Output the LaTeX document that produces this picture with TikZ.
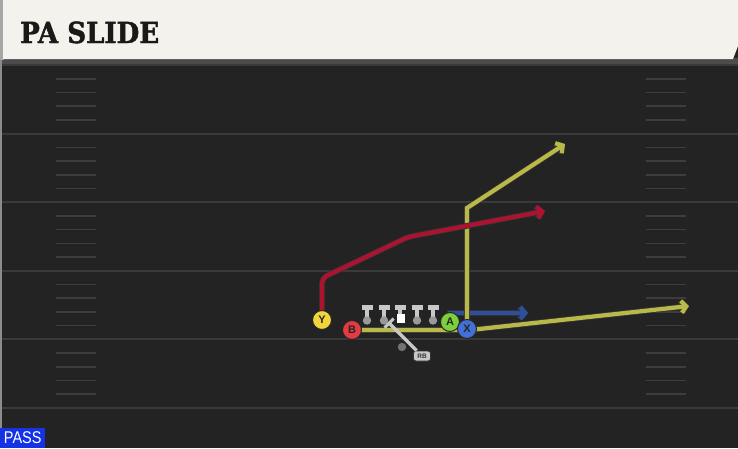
\documentclass[tikz,border=0pt]{standalone}
\usepackage{fontspec}
\setmainfont{Liberation Sans}
\newfontfamily\titlefont[FakeStretch=0.9, BoldFeatures={FakeBold=1.6}]{DejaVu Serif}
\newfontfamily\tagfont[FakeStretch=0.85]{Liberation Sans}
\usetikzlibrary{arrows.meta}
\pgfdeclarelayer{field}
\pgfdeclarelayer{routes}
\pgfsetlayers{field,routes,main}
\definecolor{turf}{HTML}{232323}
\definecolor{yardline}{HTML}{3A3A3A}
\definecolor{hashmark}{HTML}{3D3D3D}
\definecolor{paper}{HTML}{F4F2EC}
\definecolor{routeyellow}{HTML}{B9B94A}
\definecolor{routered}{HTML}{AD1230}
\definecolor{routeblue}{HTML}{2D4F9E}
\definecolor{ygold}{HTML}{F2D43C}
\definecolor{bred}{HTML}{E23B42}
\definecolor{agreen}{HTML}{7CD03C}
\definecolor{xblue}{HTML}{4270D6}
\definecolor{passblue}{HTML}{1432E6}
\definecolor{linegray}{HTML}{C8C8C8}

\tikzset{
  player/.style={circle, draw=black!85, line width=1pt, minimum size=19pt,
    inner sep=0pt, text=black!85, font=\bfseries\fontsize{11}{11}\selectfont},
  route/.style={line width=4.2pt, line join=miter,
    preaction={draw=black!80, line width=5.8pt},
    -{Straight Barb[length=5pt, width=12pt]}},
  fake/.style={draw=linegray, line width=3.5pt, -{Bar[width=13pt, line width=3pt]}},
  rbtag/.style={rectangle, rounded corners=2.5pt, fill=linegray, draw=black!80,
    line width=0.8pt, minimum width=17pt, minimum height=10pt, inner sep=1pt,
    text=black!80, font=\bfseries\fontsize{6.5}{6.5}\selectfont}
}

\begin{document}
\begin{tikzpicture}[x=1pt, y=-1pt]
  \useasboundingbox (0,0) rectangle (738,448);

  \begin{pgfonlayer}{field}
    \fill[turf] (0,0) rectangle (738,448);
    \fill[black!70] (0,58) rectangle (738,64);
    \fill[black!45] (0,60) rectangle (2,448);
    \foreach \k in {0,...,5} {
      \draw[yardline, line width=2pt] (2,65+68.6*\k) -- (738,65+68.6*\k);
    }
    \foreach \k in {0,...,4} {
      \foreach \j in {1,...,4} {
        \draw[hashmark, line width=1.6pt] (56,65+68.6*\k+13.7*\j) -- (96,65+68.6*\k+13.7*\j);
        \draw[hashmark, line width=1.6pt] (646,65+68.6*\k+13.7*\j) -- (686,65+68.6*\k+13.7*\j);
      }
    }
    \fill[black!35] (0,0) rectangle (4,60);
    \fill[paper] (3,0) -- (738,0) -- (738,46) -- (733,59) -- (3,59) -- cycle;
  \end{pgfonlayer}

  \node[anchor=base west, inner sep=0pt, text=black!90,
    font=\titlefont\bfseries\fontsize{29}{29}\selectfont] (title) at (20,43) {PA SLIDE};

  \node[player, fill=ygold] (Y) at (322,320) {Y};
  \node[player, fill=bred] (B) at (352,330) {B};
  \node[player, fill=agreen] (A) at (450,322) {A};
  \node[player, fill=xblue] (X) at (467,329) {X};

  \foreach \x in {367,384,400,417,433} {
    \fill[linegray] (\x-5.5,304.5) rectangle (\x+5.5,309.5);
    \fill[linegray] (\x-2.2,309) rectangle (\x+2.2,318);
  }
  \foreach \x in {367,384,417,433} {
    \fill[black!40] (\x,320.5) circle (4.2pt);
  }
  \fill[white] (396.5,314) rectangle (405,322.5);

  \fill[black!55] (402,347) circle (4.2pt);
  \node[rbtag] (RB) at (422,356) {RB};
  \coordinate (mesh) at (388,322);
  \draw[fake] (RB) -- (mesh);

  \node[fill=passblue, text=white, anchor=south west, minimum width=45pt, minimum height=20pt,
    inner sep=0pt, font=\tagfont\fontsize{17}{17}\selectfont] (pass) at (0,448) {PASS};

  \begin{pgfonlayer}{routes}
    \draw[route, routeblue] (A.center) -- (450,313) -- (528,313);
    \draw[route, routeyellow] (X.center) -- (467,208) -- (565,144);
    \draw[route, routered, rounded corners=5pt] (Y.center) -- (322,278) -- (408,237) -- (545,211);
    \draw[route, routeyellow] (B.center) -- (470,330) -- (689,306);
  \end{pgfonlayer}
\end{tikzpicture}
\end{document}
